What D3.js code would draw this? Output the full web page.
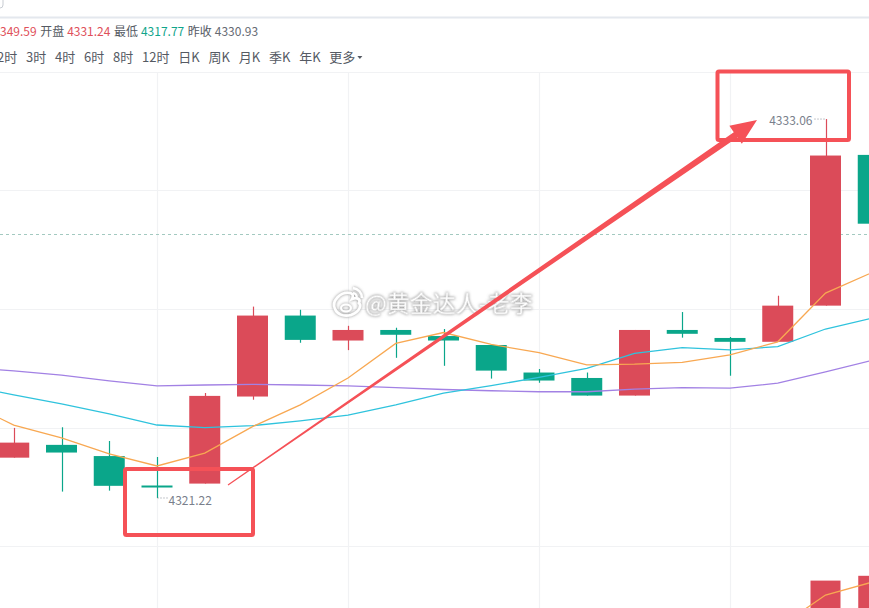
<!DOCTYPE html>
<html><head><meta charset="utf-8">
<script src="https://cdn.jsdelivr.net/npm/d3@7"></script>
<style>html,body{margin:0;padding:0;background:#fff;overflow:hidden}svg{display:block}</style>
</head><body><svg id="c" width="869" height="608"></svg>
<script>
// ---------- data ----------
const candleIndex = d3.range(0, 19);
const opens  = [4322.48,4322.88,4322.53,4321.61,4321.67,4324.39,4326.92,4326.14,4326.47,4326.28,4326.00,4325.14,4324.97,4324.42,4326.47,4326.22,4326.10,4327.23,4331.94];
const highs  = [4323.41,4323.43,4323.00,4322.50,4324.50,4327.20,4327.10,4326.60,4326.54,4326.50,4326.00,4325.25,4325.14,4326.47,4327.03,4326.25,4327.54,4333.06,4331.94];
const lows   = [4322.48,4321.42,4321.45,4321.22,4321.67,4324.29,4326.07,4325.84,4325.60,4325.35,4324.95,4324.82,4324.42,4324.42,4326.23,4325.04,4326.10,4327.23,4329.79];
const closes = [4322.95,4322.64,4321.60,4321.55,4324.41,4326.92,4326.16,4326.47,4326.32,4326.14,4325.20,4324.89,4324.42,4326.47,4326.35,4326.10,4327.23,4331.92,4329.79];
// moving averages start one bar before the first visible candle (index -1)
const maStart = -1;
const ma5  = [4324.22,4323.50,4323.10,4322.60,4322.22,4322.62,4323.45,4324.13,4324.97,4326.05,4326.39,4326.02,4325.76,4325.38,4325.40,4325.46,4325.69,4326.10,4327.62,4328.28];
const ma10 = [4324.74,4324.44,4324.16,4323.85,4323.50,4323.42,4323.48,4323.63,4323.81,4324.13,4324.50,4324.73,4324.99,4325.27,4325.74,4325.92,4325.85,4325.95,4326.50,4326.85];
const ma20 = [4325.31,4325.19,4325.06,4324.88,4324.72,4324.75,4324.77,4324.75,4324.72,4324.67,4324.61,4324.57,4324.54,4324.54,4324.62,4324.67,4324.65,4324.81,4325.16,4325.53];
const gridPrices = [4334.53,4330.83,4327.13,4323.42,4319.72];
const gridCandles = [3, 7, 11, 15];
const lastPrice = 4329.48;
const maxLabel = "4333.06", maxIndex = 17;
const minLabel = "4321.22", minIndex = 3;
// sub indicator panel (partially visible at the bottom)
const subBarIndex = [17, 18];
const subBarValues = [0.99, 1.07];
const subLineIndex = [16, 17, 18];
const subLineValues = [0.20, 0.75, 0.97];
// header texts
const headerLabels = ["最高","开盘","最低","昨收"];
const headerValues = ["4349.59","4331.24","4317.77","4330.93"];
const headerValueColors = ["#e0505a","#e0505a","#10a58b","#666a73"];
const periodTabs = ["2时","3时","4时","6时","8时","12时","日K","周K","月K","季K","年K","更多"];
const watermark = "@黄金达人-老李";

// ---------- setup ----------
const W = 869, H = 608;
const RED = "#db4b59", GREEN = "#0aa68a";
const svg = d3.select("#c");
const FONT = "'Noto Sans CJK SC','Noto Sans',sans-serif";

const x = d3.scaleLinear().domain([0, 18]).range([13.75, 873.25]);
const y = d3.scaleLinear().domain([4319.72, 4334.53]).range([546, 72]);
const subY = d3.scaleLinear().domain([0, 1]).range([640, 580]);
const bodyW = 31;

const defs = svg.append("defs");
defs.append("clipPath").attr("id","mainClip").append("rect").attr("x",0).attr("y",72).attr("width",W).attr("height",490);
defs.append("clipPath").attr("id","subClip").append("rect").attr("x",0).attr("y",562).attr("width",W).attr("height",50);
const f = defs.append("filter").attr("id","wm").attr("x","-10%").attr("y","-30%").attr("width","120%").attr("height","160%");
f.append("feDropShadow").attr("dx",0).attr("dy",0).attr("stdDeviation",1.7).attr("flood-color","#808080").attr("flood-opacity",0.95);

// top separator + input corner
svg.append("rect").attr("x",-10).attr("y",-6).attr("width",13).attr("height",14).attr("rx",3)
  .attr("fill","none").attr("stroke","#c8ccd2");
svg.append("line").attr("x1",0).attr("x2",W).attr("y1",17.5).attr("y2",17.5).attr("stroke","#e4e8ee").attr("stroke-width",2);

// header row
(function(){
  const g = svg.append("g").attr("font-family",FONT).attr("font-size",12);
  const tmp = g.append("text").text("4");
  const w4 = tmp.node().getComputedTextLength(); tmp.remove();
  const tmp2 = g.append("text").text(headerLabels[0]);
  const wl = tmp2.node().getComputedTextLength(); tmp2.remove();
  let cx = -(wl + 3 + w4);
  headerLabels.forEach((lab,i)=>{
    const t1 = g.append("text").attr("x",cx).attr("y",36).attr("fill","#555a63").text(lab);
    cx += t1.node().getComputedTextLength() + 3;
    const t2 = g.append("text").attr("x",cx).attr("y",36).attr("fill",headerValueColors[i]).text(headerValues[i]);
    cx += t2.node().getComputedTextLength() + 3.5;
  });
})();

// period tabs
(function(){
  const g = svg.append("g").attr("font-family",FONT).attr("font-size",13).attr("fill","#555a63");
  let cx = -3;
  periodTabs.forEach((t,i)=>{
    const el = g.append("text").attr("x",cx).attr("y",62).text(t);
    const w = el.node().getComputedTextLength();
    if (i === periodTabs.length-1) {
      g.append("path").attr("d",`M${cx+w+2},56 l5,0 l-2.5,3 z`).attr("fill","#555a63");
    }
    cx += w + 8.8;
  });
})();

// grid
const grid = svg.append("g");
grid.selectAll(".hg").data(gridPrices).join("line")
  .attr("x1",0).attr("x2",W)
  .attr("y1",d=>Math.round(y(d))+0.5).attr("y2",d=>Math.round(y(d))+0.5)
  .attr("stroke","#f1f2f4").attr("stroke-width",1.2);
grid.selectAll(".vg").data(gridCandles).join("line")
  .attr("y1",72).attr("y2",H)
  .attr("x1",d=>Math.round(x(d))+0.5).attr("x2",d=>Math.round(x(d))+0.5)
  .attr("stroke","#f1f2f4").attr("stroke-width",1.2);

// last price dashed line
svg.append("line").attr("x1",0).attr("x2",W)
  .attr("y1",Math.round(y(lastPrice))+0.5).attr("y2",Math.round(y(lastPrice))+0.5)
  .attr("stroke","#a3c9c0").attr("stroke-dasharray","3,3");

// main chart
const main = svg.append("g").attr("clip-path","url(#mainClip)");
const candles = candleIndex.map(i=>({i, o:opens[i], h:highs[i], l:lows[i], c:closes[i]}));
const cg = main.selectAll(".cd").data(candles).join("g");
cg.append("line")
  .attr("x1",d=>Math.round(x(d.i))+0.5).attr("x2",d=>Math.round(x(d.i))+0.5)
  .attr("y1",d=>y(d.h)).attr("y2",d=>y(d.l))
  .attr("stroke",d=>d.c>=d.o?RED:GREEN).attr("stroke-width",1.2);
cg.append("rect")
  .attr("x",d=>x(d.i)-bodyW/2).attr("width",bodyW)
  .attr("y",d=>y(Math.max(d.o,d.c)))
  .attr("height",d=>Math.max(2, Math.abs(y(d.o)-y(d.c))))
  .attr("fill",d=>d.c>=d.o?RED:GREEN);

const line = d3.line().x(d=>x(d.i)).y(d=>y(d.v));
[[ma20,"#a281e4"],[ma10,"#2fc3dd"],[ma5,"#f8a852"]].forEach(([arr,col])=>{
  main.append("path").datum(arr.map((v,k)=>({i:k+maStart, v})))
    .attr("d",line).attr("fill","none").attr("stroke",col).attr("stroke-width",1.3);
});

// sub panel
const sub = svg.append("g").attr("clip-path","url(#subClip)");
sub.selectAll("rect").data(subBarIndex.map((i,k)=>({i, v:subBarValues[k]}))).join("rect")
  .attr("x",d=>x(d.i)-bodyW/2+0.5).attr("width",bodyW-1)
  .attr("y",d=>subY(d.v)).attr("height",d=>subY(0)-subY(d.v))
  .attr("fill",RED);
sub.append("path").datum(subLineIndex.map((i,k)=>({i, v:subLineValues[k]})))
  .attr("d",d3.line().x(d=>x(d.i)).y(d=>subY(d.v)))
  .attr("fill","none").attr("stroke","#f8a852").attr("stroke-width",1.3);

// high / low labels
const lbl = svg.append("g").attr("font-family",FONT).attr("font-size",12).attr("fill","#7a7f8c");
const hx = Math.round(x(maxIndex))+0.5, hy = y(highs[maxIndex]);
lbl.append("line").attr("x1",hx-12).attr("x2",hx).attr("y1",hy).attr("y2",hy)
  .attr("stroke","#8a8f9a").attr("stroke-dasharray","1,2");
lbl.append("text").attr("x",hx-14).attr("y",hy+6).attr("text-anchor","end").text(maxLabel);
const lx = Math.round(x(minIndex))+0.5, ly = y(lows[minIndex]);
lbl.append("line").attr("x1",lx).attr("x2",lx+10).attr("y1",ly).attr("y2",ly)
  .attr("stroke","#8a8f9a").attr("stroke-dasharray","1,2");
lbl.append("text").attr("x",lx+11).attr("y",ly+7).text(minLabel);

// watermark
const wm = svg.append("g").attr("filter","url(#wm)");
const lg = wm.append("g").attr("transform","translate(347,303)").attr("fill","none").attr("stroke","#fff");
lg.append("path").attr("d","M-12,6 C-16,-2 -6,-12 3,-10 C7,-9 6,-6 5,-4 C10,-6 14,-4 12,0 C14,2 14,8 4,12 C-4,14 -10,11 -12,6 Z").attr("stroke-width",2.6);
lg.append("ellipse").attr("cx",-1).attr("cy",5).attr("rx",5).attr("ry",3.5).attr("stroke-width",2);
lg.append("path").attr("d","M6,-15 A10,10 0 0 1 15,-5").attr("stroke-width",2.4);
lg.append("path").attr("d","M6,-10 A5,5 0 0 1 10,-6").attr("stroke-width",2);
wm.append("text").attr("x",365).attr("y",312).attr("font-family",FONT).attr("font-size",23)
  .attr("fill","#fff").attr("stroke","#e0e0e0").attr("stroke-width",0.5).text(watermark);

// annotation boxes and arrow
const ann = svg.append("g");
const boxes = [[717.5,71.5,849,140],[125,469,253,535]];
ann.selectAll("rect").data(boxes).join("rect")
  .attr("x",d=>d[0]).attr("y",d=>d[1]).attr("width",d=>d[2]-d[0]).attr("height",d=>d[3]-d[1])
  .attr("fill","none").attr("stroke","#f55157").attr("stroke-width",4).attr("rx",1.5);
(function(){
  const sx=228, sy=485, tx=757, ty=120;
  const dx=tx-sx, dy=ty-sy, L=Math.hypot(dx,dy);
  const ux=dx/L, uy=dy/L, nx=-uy, ny=ux;
  const hl=26, hw=11;
  const bx=tx-ux*hl, by=ty-uy*hl;
  const w0=0.6, w1=3.2;
  const pts=[[sx+nx*w0,sy+ny*w0],[bx+nx*w1,by+ny*w1],[bx+nx*hw,by+ny*hw],[tx,ty],
             [bx-nx*hw,by-ny*hw],[bx-nx*w1,by-ny*w1],[sx-nx*w0,sy-ny*w0]];
  ann.append("path").attr("d","M"+pts.map(p=>p.join(",")).join("L")+"Z").attr("fill","#f55157");
})();
</script></body></html>
